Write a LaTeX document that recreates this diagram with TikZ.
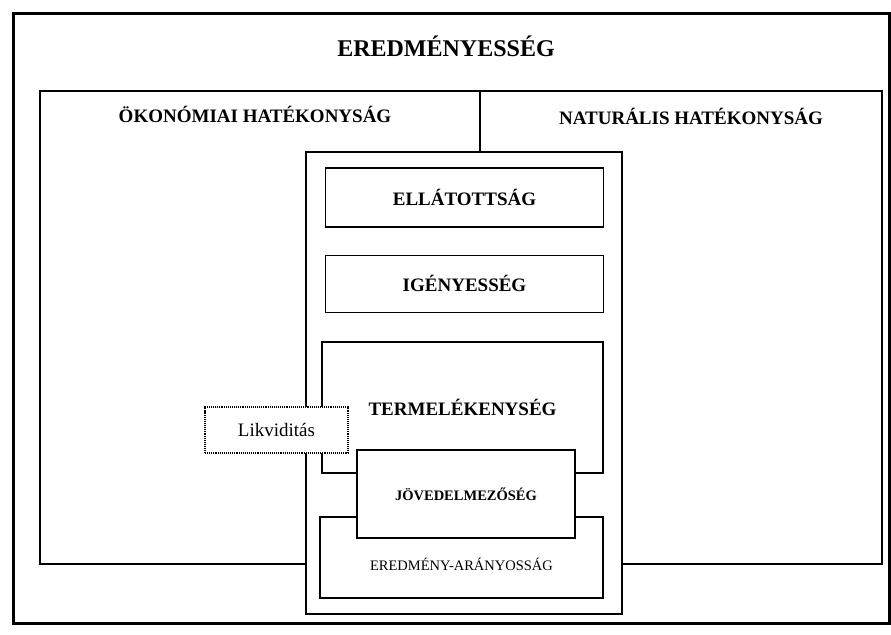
\documentclass[tikz,border=0pt]{standalone}
\usepackage{fontspec}
\setmainfont{Liberation Serif}
\usetikzlibrary{positioning}
\tikzset{frame/.style={draw, rectangle, inner sep=0pt, line width=1.1bp}}

\begin{document}
\begin{tikzpicture}[x=1bp,y=-1bp,node distance=27bp]
    \tikzstyle{box}=[frame, fill=white]
    \tikzstyle{head}=[font=\fontsize{19bp}{22bp}\selectfont\bfseries]
    \tikzstyle{small}=[font=\fontsize{14.5bp}{17bp}\selectfont]
    \useasboundingbox (0,0) rectangle (891,635);

    % frames
    \node[frame,line width=3bp,minimum width=875bp,minimum height=609bp] (all)  at (451.5,318.5) {};
    \node[frame,minimum width=842bp,minimum height=473bp]                 (cols) at (461,327.5) {};
    \coordinate (divtop) at (480,91);

    \node[head,font=\fontsize{24bp}{27bp}\selectfont\bfseries] (eredm) at (446,46)  {EREDMÉNYESSÉG};
    \node[head] (okon) at (255,114) {ÖKONÓMIAI HATÉKONYSÁG};
    \node[head] (natur) at (691,116) {NATURÁLIS HATÉKONYSÁG};

    % central column
    \node[box,minimum width=316bp,minimum height=462bp] (cent) at (464,383) {};
    \draw[line width=1.1bp] (divtop) -- (divtop |- cent.north);

    \node[box,head,minimum width=278bp,minimum height=59bp]  (ell)  at (464.5,197.5)      {ELLÁTOTTSÁG};
    \node[box,head,minimum width=278bp,minimum height=57bp]  (ige)  [below=of ell]        {IGÉNYESSÉG};
    \node[box,head,minimum width=281bp,minimum height=131bp] (term) at (462.5,407.5)      {TERMELÉKENYSÉG};
    \node[box,minimum width=283bp,minimum height=81bp]       (arany) at (461.5,557.5)     {};
    \node[small] (aranyt) at ([yshift=-7bp]arany.center) {EREDMÉNY-ARÁNYOSSÁG};
    \node[box,small,font=\fontsize{14.5bp}{17bp}\selectfont\bfseries,
          minimum width=218bp,minimum height=88bp]          (jov)  at (466,494)          {JÖVEDELMEZŐSÉG};

    \node[box,densely dotted,minimum width=143bp,minimum height=46bp,
          font=\fontsize{19bp}{22bp}\selectfont]             (likv) at (276.5,430)        {Likviditás};
\end{tikzpicture}
\end{document}
